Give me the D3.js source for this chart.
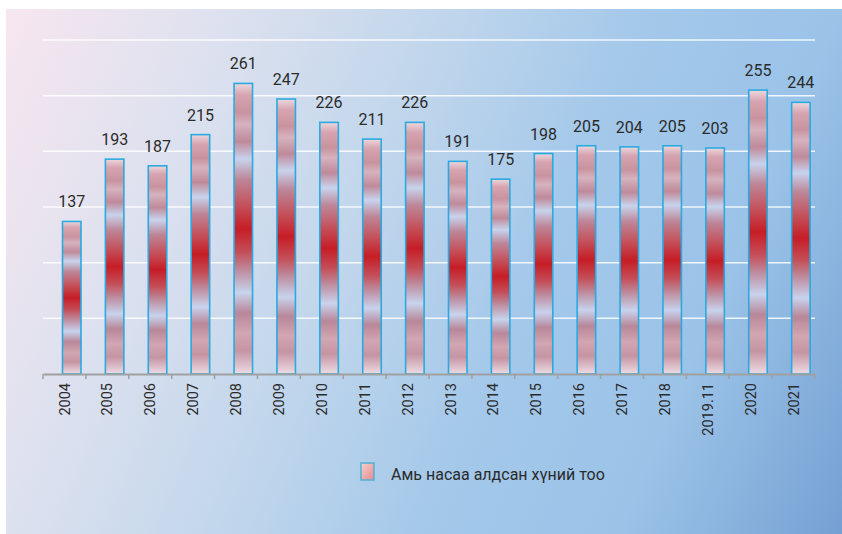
<!DOCTYPE html>
<html>
<head>
<meta charset="utf-8">
<script src="https://cdn.jsdelivr.net/npm/d3@7"></script>
<style>
  html, body { margin: 0; padding: 0; background: #fff; }
  svg { display: block; font-family: Roboto, "Noto Sans", sans-serif; }
</style>
</head>
<body>
<div id="chart"></div>
<script>
const years = ["2004", "2005", "2006", "2007", "2008", "2009", "2010", "2011", "2012",
  "2013", "2014", "2015", "2016", "2017", "2018", "2019.11", "2020", "2021"];
const deaths = [137, 193, 187, 215, 261, 247, 226, 211, 226, 191, 175, 198, 205, 204, 205, 203, 255, 244];
const gridValues = [50, 100, 150, 200, 250, 300];
const legendLabel = "Амь насаа алдсан хүний тоо";

const W = 842, H = 534;
const svg = d3.select("#chart").append("svg")
  .attr("width", W)
  .attr("height", H);

const defs = svg.append("defs");

// background panel gradient, mostly left -> right, pink to blue
const bg = defs.append("linearGradient")
  .attr("id", "bgGrad")
  .attr("gradientUnits", "userSpaceOnUse")
  .attr("x1", 6).attr("y1", 9).attr("x2", 950).attr("y2", 410);
[[0, "#f7e6ef"], [0.2, "#dde1ef"], [0.38, "#c3d7ec"], [0.58, "#a3c8ea"], [0.75, "#9bc3e8"], [1, "#6c97cd"]]
  .forEach(([o, c]) => bg.append("stop").attr("offset", o).attr("stop-color", c));

// striped bar gradient, scaled to each bar
const barGrad = defs.append("linearGradient")
  .attr("id", "barGrad")
  .attr("x1", "0").attr("y1", "0").attr("x2", "0").attr("y2", "1");
[[0, "#ecd8de"], [0.04, "#d6a4b0"], [0.10, "#c8939f"], [0.14, "#d6b2bf"], [0.20, "#bf8a9a"],
 [0.26, "#c8d3ed"], [0.33, "#bd8698"], [0.42, "#c4505a"], [0.50, "#c61d26"], [0.58, "#c44e58"],
 [0.64, "#bd899b"], [0.72, "#c8d3ed"], [0.79, "#b88799"], [0.86, "#d2a6b3"], [0.92, "#c594a3"],
 [1, "#ecdce4"]]
  .forEach(([o, c]) => barGrad.append("stop").attr("offset", o).attr("stop-color", c));

const legGrad = defs.append("linearGradient")
  .attr("id", "legGrad")
  .attr("x1", "0").attr("y1", "0").attr("x2", "1").attr("y2", "1");
legGrad.append("stop").attr("offset", 0).attr("stop-color", "#f6d0d0");
legGrad.append("stop").attr("offset", 1).attr("stop-color", "#e68a8c");

svg.append("rect")
  .attr("x", 6).attr("y", 9)
  .attr("width", W - 6).attr("height", H - 9)
  .attr("fill", "url(#bgGrad)");

// scales
const x = d3.scaleBand().domain(years).range([43, 815]).padding(0);
const y = d3.scaleLinear().domain([0, 300]).range([374, 40]);

// gridlines
svg.append("g")
  .selectAll("line")
  .data(gridValues)
  .join("line")
  .attr("x1", 43).attr("x2", 815)
  .attr("y1", d => y(d)).attr("y2", d => y(d))
  .attr("stroke", "#ffffff")
  .attr("stroke-opacity", 0.85)
  .attr("stroke-width", 1.5);

// bars (sit right of band centre, as in the original)
const barOffset = 19.5, barW = 18.5;
svg.append("g")
  .selectAll("rect")
  .data(deaths)
  .join("rect")
  .attr("x", (d, i) => x(years[i]) + barOffset)
  .attr("y", d => y(d))
  .attr("width", barW)
  .attr("height", d => y(0) - y(d))
  .attr("fill", "url(#barGrad)")
  .attr("stroke", "#2aaae0")
  .attr("stroke-width", 1.6);

// value labels
svg.append("g")
  .selectAll("text")
  .data(deaths)
  .join("text")
  .attr("x", (d, i) => x(years[i]) + barOffset + barW / 2)
  .attr("y", d => y(d) - 14)
  .attr("text-anchor", "middle")
  .attr("font-size", 16)
  .attr("fill", "#2b2b2b")
  .text(d => d);

// x axis
const axis = svg.append("g")
  .attr("transform", `translate(0,${y(0)})`)
  .call(d3.axisBottom(x).tickSize(0).tickPadding(0));
axis.select(".domain").attr("stroke", "#a0a0a0").attr("stroke-width", 2);
axis.selectAll(".tick text")
  .attr("transform", "rotate(-90)")
  .attr("text-anchor", "end")
  .attr("x", -9)
  .attr("y", 0)
  .attr("dy", "0.35em")
  .attr("font-size", 14.5)
  .attr("font-family", "Roboto, sans-serif")
  .attr("fill", "#2b2b2b");

// tick marks at band boundaries
const bounds = years.map(d => x(d)).concat([x.range()[1]]);
axis.append("g")
  .selectAll("line")
  .data(bounds)
  .join("line")
  .attr("x1", d => d).attr("x2", d => d)
  .attr("y1", 0).attr("y2", 5)
  .attr("stroke", "#a0a0a0")
  .attr("stroke-width", 1.5);

// legend
svg.append("rect")
  .attr("x", 361).attr("y", 463)
  .attr("width", 13).attr("height", 17)
  .attr("fill", "url(#legGrad)")
  .attr("stroke", "#4fb2d2")
  .attr("stroke-width", 1.5);
svg.append("text")
  .attr("x", 391).attr("y", 474)
  .attr("dy", "0.35em")
  .attr("font-size", 16)
  .attr("fill", "#2b2b2b")
  .text(legendLabel);
</script>
</body>
</html>
